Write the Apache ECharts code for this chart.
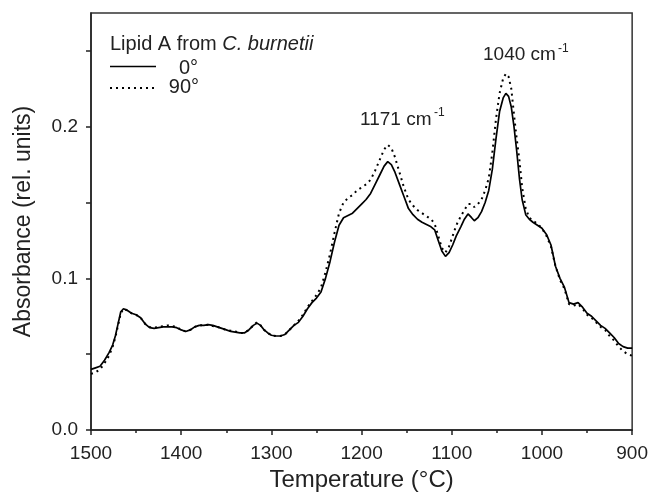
<!DOCTYPE html>
<html>
<head>
<meta charset="utf-8">
<script src="https://cdn.jsdelivr.net/npm/echarts@6/dist/echarts.min.js"></script>
<style>
html,body{margin:0;padding:0;background:#fff;}
#chart{width:651px;height:498px;}
</style>
</head>
<body>
<div id="chart"></div>
<script>
var temps = [1500,1495,1490,1485,1480,1476,1473,1470,1467,1464,1460,1455,1450,1445,1440,1435,1430,1425,1420,1415,1410,1405,1400,1395,1390,1385,1380,1375,1370,1365,1360,1355,1350,1345,1340,1335,1330,1325,1320,1316,1312,1308,1304,1300,1295,1290,1285,1280,1275,1270,1265,1260,1255,1250,1245,1240,1235,1230,1225,1220,1215,1210,1205,1200,1195,1190,1185,1180,1175,1171,1167,1163,1158,1153,1148,1143,1138,1133,1128,1123,1119,1115,1111,1107,1103,1099,1095,1090,1086,1082,1078,1075,1071,1067,1063,1059,1055,1051,1047,1043,1040,1037,1034,1031,1028,1025,1022,1018,1014,1010,1005,1000,995,990,985,980,975,970,965,960,955,950,945,940,935,930,925,920,915,910,905,900];

var abs0 = [0.040,0.041,0.042,0.046,0.051,0.056,0.062,0.070,0.078,0.080,0.079,0.077,0.076,0.074,0.070,0.0675,0.067,0.0675,0.068,0.068,0.068,0.0675,0.066,0.065,0.066,0.068,0.069,0.069,0.0695,0.069,0.068,0.067,0.066,0.065,0.0645,0.064,0.064,0.066,0.069,0.0705,0.069,0.066,0.064,0.0625,0.062,0.062,0.063,0.066,0.069,0.071,0.075,0.080,0.084,0.087,0.091,0.100,0.111,0.124,0.135,0.140,0.1415,0.143,0.146,0.149,0.152,0.156,0.162,0.168,0.174,0.177,0.175,0.170,0.162,0.154,0.146,0.142,0.139,0.137,0.1355,0.134,0.132,0.125,0.118,0.1145,0.117,0.122,0.128,0.134,0.139,0.1425,0.140,0.138,0.140,0.144,0.150,0.158,0.172,0.192,0.210,0.219,0.222,0.220,0.213,0.200,0.184,0.166,0.152,0.142,0.139,0.137,0.135,0.133,0.129,0.122,0.108,0.100,0.094,0.084,0.083,0.084,0.081,0.077,0.075,0.072,0.069,0.067,0.064,0.061,0.057,0.055,0.054,0.054];

var abs90 = [0.037,0.038,0.040,0.044,0.049,0.055,0.061,0.069,0.077,0.080,0.079,0.077,0.076,0.074,0.070,0.068,0.0675,0.068,0.0685,0.069,0.0685,0.068,0.066,0.065,0.066,0.068,0.069,0.069,0.0695,0.0685,0.068,0.067,0.066,0.0655,0.065,0.064,0.064,0.066,0.069,0.071,0.069,0.066,0.064,0.0625,0.062,0.062,0.063,0.066,0.069,0.072,0.076,0.081,0.085,0.089,0.094,0.104,0.116,0.130,0.143,0.150,0.153,0.155,0.158,0.160,0.162,0.165,0.171,0.178,0.185,0.188,0.186,0.180,0.170,0.160,0.152,0.148,0.145,0.143,0.141,0.139,0.136,0.128,0.120,0.117,0.121,0.128,0.135,0.141,0.145,0.149,0.149,0.147,0.149,0.152,0.158,0.166,0.183,0.205,0.222,0.232,0.235,0.233,0.225,0.208,0.192,0.178,0.160,0.146,0.140,0.138,0.136,0.133,0.128,0.121,0.108,0.099,0.093,0.083,0.082,0.083,0.080,0.076,0.074,0.071,0.068,0.066,0.062,0.059,0.055,0.052,0.050,0.049];

var yLabelValues = [0, 0.1, 0.2];
var yTickValues = [0, 0.05, 0.1, 0.15, 0.2, 0.25];
var seriesNames = ['0°', '90°'];
var legendTitle = 'Lipid A from ';
var legendTitleItalic = 'C. burnetii';
var peakLabels = ['1171 cm', '1040 cm'];
var peakSup = '-1';

function pairs(xs, ys) {
  var out = [];
  for (var i = 0; i < xs.length; i++) out.push([xs[i], ys[i]]);
  return out;
}

var FONT = '"Liberation Sans", Arial, sans-serif';
var TXT = '#222';

var chart = echarts.init(document.getElementById('chart'));
chart.setOption({
  animation: false,
  backgroundColor: '#fff',
  grid: {left: 91, right: 18, top: 13, bottom: 68, show: true, borderColor: '#333', borderWidth: 1.5, backgroundColor: 'transparent'},
  xAxis: {
    type: 'value', min: 900, max: 1500, interval: 100, inverse: true,
    name: 'Temperature (°C)', nameLocation: 'middle', nameGap: 37,
    nameTextStyle: {fontFamily: FONT, fontSize: 24, color: TXT},
    axisLine: {show: true, onZero: false, lineStyle: {color: '#222', width: 1.5}},
    axisTick: {show: true, length: 5, lineStyle: {color: '#222', width: 1.5}},
    minorTick: {show: true, splitNumber: 2, length: 3, lineStyle: {color: '#222', width: 1.5}},
    axisLabel: {fontFamily: FONT, fontSize: 19, color: TXT, margin: 14,
      formatter: function (v) { return String(v); }},
    splitLine: {show: false}, minorSplitLine: {show: false}
  },
  yAxis: {
    type: 'value', min: 0, max: 0.275,
    name: 'Absorbance (rel. units)', nameLocation: 'middle', nameGap: 56,
    nameTextStyle: {fontFamily: FONT, fontSize: 23, color: TXT},
    axisLine: {show: true, lineStyle: {color: '#222', width: 1.5}},
    axisTick: {show: true, length: 5, customValues: yTickValues, lineStyle: {color: '#222', width: 1.5}},
    axisLabel: {fontFamily: FONT, fontSize: 19, color: TXT, margin: 13, customValues: yLabelValues,
      formatter: function (v) { return v.toFixed(1); }},
    splitLine: {show: false}
  },
  series: [
    {name: seriesNames[0], type: 'line', data: pairs(temps, abs0), showSymbol: false, symbol: 'none',
     lineStyle: {color: '#000', width: 1.7}, z: 3},
    {name: seriesNames[1], type: 'line', data: pairs(temps, abs90), showSymbol: false, symbol: 'none',
     lineStyle: {color: '#000', width: 2, type: [2, 4]}, z: 2}
  ],
  graphic: [
    {type: 'text', left: 110, top: 34, style: {
      text: '{n|' + legendTitle + '}{i|' + legendTitleItalic + '}',
      rich: {
        n: {fontFamily: FONT, fontSize: 20, fill: TXT},
        i: {fontFamily: FONT, fontSize: 20, fontStyle: 'italic', fill: TXT}
      }}},
    {type: 'line', shape: {x1: 110, y1: 66.5, x2: 156, y2: 66.5}, style: {stroke: '#000', lineWidth: 1.7}},
    {type: 'text', x: 198, y: 68, style: {text: seriesNames[0], fontFamily: FONT, fontSize: 20, fill: TXT, align: 'right', verticalAlign: 'middle'}},
    {type: 'line', shape: {x1: 110, y1: 88, x2: 154, y2: 88}, style: {stroke: '#000', lineWidth: 2, lineDash: [2, 4]}},
    {type: 'text', x: 199, y: 87, style: {text: seriesNames[1], fontFamily: FONT, fontSize: 20, fill: TXT, align: 'right', verticalAlign: 'middle'}},
    {type: 'text', x: 360, y: 120, style: {text: peakLabels[0], fontFamily: FONT, fontSize: 19, fill: TXT, align: 'left', verticalAlign: 'middle'}},
    {type: 'text', x: 434, y: 113, style: {text: peakSup, fontFamily: FONT, fontSize: 12, fill: TXT, align: 'left', verticalAlign: 'middle'}},
    {type: 'text', x: 483, y: 55, style: {text: peakLabels[1], fontFamily: FONT, fontSize: 19, fill: TXT, align: 'left', verticalAlign: 'middle'}},
    {type: 'text', x: 558, y: 49, style: {text: peakSup, fontFamily: FONT, fontSize: 12, fill: TXT, align: 'left', verticalAlign: 'middle'}}
  ]
});
</script>
</body>
</html>
